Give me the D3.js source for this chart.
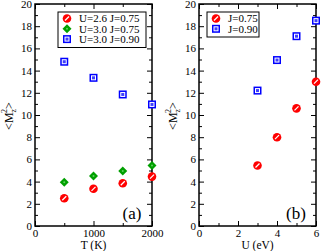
<!DOCTYPE html>
<meta charset="utf-8">
<style>
body { margin: 0; background: #fff; }
svg text { font-family: "Liberation Serif", "Times New Roman", "DejaVu Serif", serif; fill: #000; }
</style>
<body>
<script src="https://cdn.jsdelivr.net/npm/d3@7"></script>
<script>

// panel (a): <Mz^2> vs temperature
var temps = [500, 1000, 1500, 2000],
	u26j075 = [2.5, 3.35, 3.85, 4.45],
	u30j075 = [3.95, 4.5, 4.95, 5.45],
	u30j090 = [14.8, 13.35, 11.85, 10.95];

// panel (b): <Mz^2> vs U
var uVals = [3, 4, 5, 6],
	j075 = [5.45, 8.0, 10.6, 13.0],
	j090 = [12.2, 14.95, 17.1, 18.5];

var yTicks = [0, 2, 4, 6, 8, 10, 12, 14, 16, 18, 20],
	tTicks = [0, 1000, 2000],
	uTicks = [0, 2, 4, 6];

var width = 321, height = 251,
	plotTop = 4, plotBottom = 226,
	serif = "'Liberation Serif', 'Times New Roman', 'DejaVu Serif', serif";

var svg = d3.select("body").append("svg")
	.attr("width", width)
	.attr("height", height)
	.attr("font-family", serif);

var y = d3.scaleLinear().domain([0, 20]).range([plotBottom, plotTop]);

function marker(g, type, cx, cy) {
	if (type == "circle") {
		g.append("circle").attr("cx", cx).attr("cy", cy).attr("r", 4.3)
			.attr("fill", "#ff0000");
		g.append("line").attr("x1", cx + 2).attr("y1", cy - 2)
			.attr("x2", cx - 2).attr("y2", cy + 2)
			.attr("stroke", "#fff").attr("stroke-width", 1.2);
	} else if (type == "square") {
		g.append("rect").attr("x", cx - 4).attr("y", cy - 4)
			.attr("width", 8).attr("height", 8).attr("fill", "#0000ff");
		g.append("rect").attr("x", cx - 2).attr("y", cy - 2)
			.attr("width", 4).attr("height", 4)
			.attr("fill", "#4040ff").attr("stroke", "#fff").attr("stroke-width", 1);
	} else {
		g.append("path")
			.attr("d", "M" + cx + "," + (cy - 4.5) + "L" + (cx + 4.5) + "," + cy +
				"L" + cx + "," + (cy + 4.5) + "L" + (cx - 4.5) + "," + cy + "Z")
			.attr("fill", "#00a000");
		g.append("circle").attr("cx", cx).attr("cy", cy).attr("r", 1)
			.attr("fill", "#60d060");
	}
}

function panel(left, right, xDomain, xTicks, xMinor, xTitle, tag, series, legend) {
	var x = d3.scaleLinear().domain(xDomain).range([left, right]);
	var g = svg.append("g");

	// ticks on all four sides, pointing in
	var yMinor = d3.range(1, 20, 2);
	function addAxis(axis, tx, ty) {
		return g.append("g").attr("transform", "translate(" + tx + "," + ty + ")").call(axis)
			.call(function(s) { s.select(".domain").remove(); });
	}
	addAxis(d3.axisBottom(x).tickValues(xMinor).tickSize(-3).tickFormat(""), 0, plotBottom);
	addAxis(d3.axisTop(x).tickValues(xMinor).tickSize(-3).tickFormat(""), 0, plotTop);
	addAxis(d3.axisTop(x).tickValues(xTicks).tickSize(-5).tickFormat(""), 0, plotTop);
	addAxis(d3.axisLeft(y).tickValues(yMinor).tickSize(-3).tickFormat(""), left, 0);
	addAxis(d3.axisRight(y).tickValues(yMinor).tickSize(-3).tickFormat(""), right, 0);
	addAxis(d3.axisRight(y).tickValues(yTicks).tickSize(-5).tickFormat(""), right, 0);

	addAxis(d3.axisBottom(x).tickValues(xTicks).tickSize(-5).tickPadding(3)
			.tickFormat(d3.format("d")), 0, plotBottom);
	addAxis(d3.axisLeft(y).tickValues(yTicks).tickSize(-5).tickPadding(3), left, 0);

	g.selectAll("g").attr("font-family", serif).attr("font-size", 11);
	g.selectAll(".tick line").attr("stroke", "#000");

	g.append("rect").attr("x", left).attr("y", plotTop)
		.attr("width", right - left).attr("height", plotBottom - plotTop)
		.attr("fill", "none").attr("stroke", "#000").attr("stroke-width", 1.5);

	g.append("text").attr("x", (left + right) / 2).attr("y", 249)
		.attr("text-anchor", "middle").attr("font-size", 11.5).text(xTitle);

	var yl = g.append("text")
		.attr("transform", "translate(" + (left - 22) + ",116) rotate(-90)")
		.attr("text-anchor", "middle").attr("font-size", 12);
	yl.append("tspan").text("<M");
	yl.append("tspan").attr("font-size", 8).attr("dy", 3).text("z");
	yl.append("tspan").attr("font-size", 8).attr("dx", -4).attr("dy", -9).text("2");
	yl.append("tspan").attr("dy", 6).text(">");

	g.append("text").attr("x", right - 20).attr("y", 219)
		.attr("text-anchor", "middle").attr("font-size", 17).text(tag);

	series.forEach(function(s) {
		s.xs.forEach(function(v, i) {
			marker(g, s.type, x(v), y(s.ys[i]));
		});
	});

	// legend box
	var lg = g.append("g");
	lg.append("rect").attr("x", legend.x).attr("y", 12)
		.attr("width", legend.w).attr("height", series.length * 10.5 + 4)
		.attr("fill", "#fff").attr("stroke", "#000").attr("stroke-width", 1);
	series.forEach(function(s, i) {
		var cy = 18.5 + i * 10.3;
		marker(lg, s.type, legend.x + 9, cy);
		lg.append("text").attr("x", legend.x + 21).attr("y", cy + 3.8)
			.attr("font-size", 11).text(s.name);
	});
}

panel(35, 152, [0, 2000], tTicks, [500, 1500], "T (K)", "(a)", [
	{ name: "U=2.6 J=0.75", type: "circle", xs: temps, ys: u26j075 },
	{ name: "U=3.0 J=0.75", type: "diamond", xs: temps, ys: u30j075 },
	{ name: "U=3.0 J=0.90", type: "square", xs: temps, ys: u30j090 }
], { x: 58, w: 88 });

panel(199, 316, [0, 6], uTicks, [1, 3, 5], "U (eV)", "(b)", [
	{ name: "J=0.75", type: "circle", xs: uVals, ys: j075 },
	{ name: "J=0.90", type: "square", xs: uVals, ys: j090 }
], { x: 207, w: 52 });

</script>
</body>
</html>
